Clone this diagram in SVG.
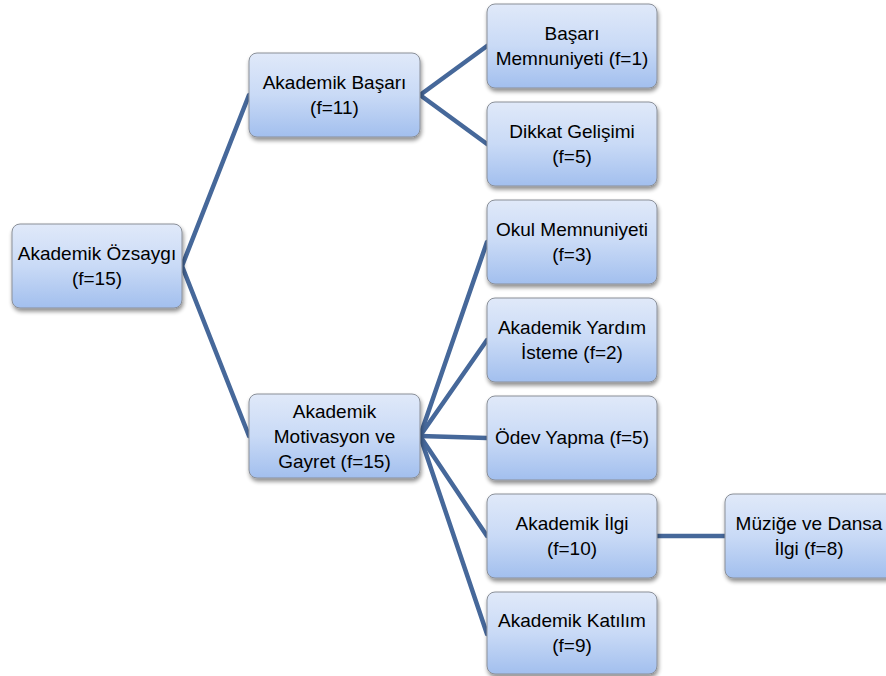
<svg xmlns="http://www.w3.org/2000/svg" width="886" height="676" viewBox="0 0 886 676">
<defs>
<linearGradient id="g" x1="0" y1="0" x2="0" y2="1">
<stop offset="0" stop-color="#e0e9f9"/>
<stop offset="0.5" stop-color="#c9daf6"/>
<stop offset="1" stop-color="#a2bfee"/>
</linearGradient>
<filter id="sh" x="-10%" y="-10%" width="125%" height="130%">
<feGaussianBlur in="SourceAlpha" stdDeviation="2"/>
<feOffset dx="1" dy="3" result="b"/>
<feComponentTransfer><feFuncA type="linear" slope="0.45"/></feComponentTransfer>
<feMerge><feMergeNode/><feMergeNode in="SourceGraphic"/></feMerge>
</filter>
</defs>
<style>
.box{fill:url(#g);stroke:#8a8f98;stroke-width:1;filter:url(#sh)}
.t{font-family:"Liberation Sans",Arial,sans-serif;font-size:19px;fill:#000;text-anchor:middle}
.c{stroke:#46689a;stroke-width:4.5;fill:none;stroke-linecap:round}
</style>
<rect width="886" height="676" fill="#fff"/>
<g id="connectors">
<line class="c" x1="182" y1="266" x2="249" y2="95"/>
<line class="c" x1="182" y1="266" x2="249" y2="436"/>
<line class="c" x1="420" y1="95" x2="487" y2="46"/>
<line class="c" x1="420" y1="95" x2="487" y2="144"/>
<line class="c" x1="420" y1="436" x2="487" y2="242"/>
<line class="c" x1="420" y1="436" x2="487" y2="340"/>
<line class="c" x1="420" y1="436" x2="487" y2="438"/>
<line class="c" x1="420" y1="436" x2="487" y2="536"/>
<line class="c" x1="420" y1="436" x2="487" y2="634"/>
<line class="c" x1="657" y1="536" x2="725" y2="536"/>
</g>
<g id="n-root"><rect class="box" x="12" y="224" width="170" height="84" rx="8"/><text class="t" x="97" y="260">Akademik Özsaygı</text><text class="t" x="97" y="285">(f=15)</text></g>
<g id="n-basari"><rect class="box" x="249" y="53" width="171" height="84" rx="8"/><text class="t" x="334.5" y="89">Akademik Başarı</text><text class="t" x="334.5" y="114">(f=11)</text></g>
<g id="n-motivasyon"><rect class="box" x="249" y="394" width="171" height="84" rx="8"/><text class="t" x="334.5" y="418">Akademik</text><text class="t" x="334.5" y="443">Motivasyon ve</text><text class="t" x="334.5" y="468">Gayret (f=15)</text></g>
<g id="n-memnuniyet"><rect class="box" x="487" y="4" width="170" height="84" rx="8"/><text class="t" x="572" y="40">Başarı</text><text class="t" x="572" y="65">Memnuniyeti (f=1)</text></g>
<g id="n-dikkat"><rect class="box" x="487" y="102" width="170" height="84" rx="8"/><text class="t" x="572" y="138">Dikkat Gelişimi</text><text class="t" x="572" y="163">(f=5)</text></g>
<g id="n-okul"><rect class="box" x="487" y="200" width="170" height="84" rx="8"/><text class="t" x="572" y="236">Okul Memnuniyeti</text><text class="t" x="572" y="261">(f=3)</text></g>
<g id="n-yardim"><rect class="box" x="487" y="298" width="170" height="84" rx="8"/><text class="t" x="572" y="334">Akademik Yardım</text><text class="t" x="572" y="359">İsteme (f=2)</text></g>
<g id="n-odev"><rect class="box" x="487" y="396" width="170" height="84" rx="8"/><text class="t" x="572" y="444">Ödev Yapma (f=5)</text></g>
<g id="n-ilgi"><rect class="box" x="487" y="494" width="170" height="84" rx="8"/><text class="t" x="572" y="530">Akademik İlgi</text><text class="t" x="572" y="555">(f=10)</text></g>
<g id="n-katilim"><rect class="box" x="487" y="592" width="170" height="82" rx="8"/><text class="t" x="572" y="627">Akademik Katılım</text><text class="t" x="572" y="652">(f=9)</text></g>
<g id="n-muzik"><rect class="box" x="725" y="494" width="170" height="84" rx="8"/><text class="t" x="809" y="530">Müziğe ve Dansa</text><text class="t" x="809" y="555">İlgi (f=8)</text></g>
</svg>
